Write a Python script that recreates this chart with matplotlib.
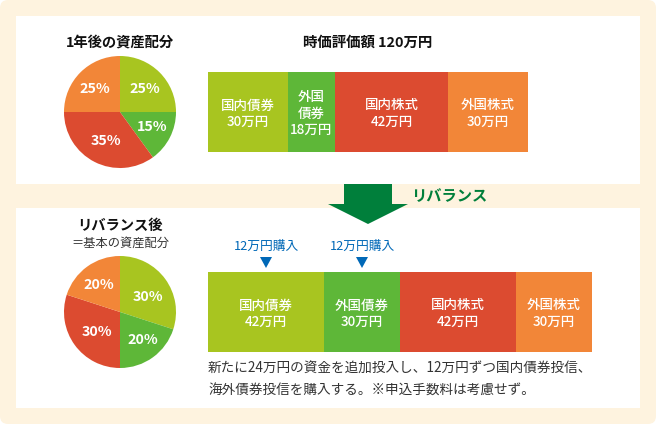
import numpy as np
import matplotlib.pyplot as plt
from matplotlib.patches import FancyBboxPatch, Rectangle, Polygon

plt.rcParams['font.family'] = ['Noto Sans CJK JP', 'DejaVu Sans']

# Colors of the four asset classes
colors = ['#A8C520', '#5EB738', '#DC4B30', '#F28638']

# Allocation shares for the two pies
shares_before = [25, 15, 35, 25]
shares_after = [30, 20, 30, 20]

# Bar segments (pixel width, label)
bar_before = [(80, '国内債券\n30万円'), (47, '外国\n債券\n18万円'), (113, '国内株式\n42万円'), (80, '外国株式\n30万円')]
bar_after = [(116, '国内債券\n42万円'), (76, '外国債券\n30万円'), (116, '国内株式\n42万円'), (76, '外国株式\n30万円')]

# Create the canvas, one unit is one pixel
plt.figure(figsize=(6.56, 4.24), dpi=100)
ax = plt.axes([0, 0, 1, 1])

# Cream background and the two white panels
ax.add_patch(FancyBboxPatch((8, 8), 640, 408, boxstyle='round,pad=8,rounding_size=8', fc='#FEF3DF', ec='none', zorder=0))
ax.add_patch(Rectangle((16, 16), 624, 168, fc='white', ec='none', zorder=1))
ax.add_patch(Rectangle((16, 208), 624, 200, fc='white', ec='none', zorder=1))

# Pie charts, the y axis is flipped so counterclock runs clockwise on screen
plt.pie(shares_before, colors=colors, center=(120, 112), radius=56, startangle=-90, counterclock=True, frame=True)
plt.pie(shares_after, colors=colors, center=(120, 312), radius=56, startangle=-90, counterclock=True, frame=True)

plt.xlim(0, 656)
plt.ylim(424, 0)
plt.axis('off')

# Percent labels on the pies
labels_before = [(145, 89, '25%'), (152, 127, '15%'), (106, 141, '35%'), (95, 89, '25%')]
labels_after = [(148, 297, '30%'), (143, 340, '20%'), (97, 332, '30%'), (99, 285, '20%')]
for x, y, s in labels_before + labels_after:
    plt.text(x, y, s, color='white', fontsize=10.3, fontweight='bold', ha='center', va='center', zorder=5)

# Stacked bars
for segments, top in [(bar_before, 72), (bar_after, 272)]:
    left = 208
    for (width, label), color in zip(segments, colors):
        plt.bar(left, 80, width=width, bottom=top, align='edge', color=color, zorder=3)
        plt.text(left + width / 2, top + 41.5, label, color='white', fontsize=9.7, fontweight='medium',
                 ha='center', va='center', linespacing=1.2, zorder=5)
        left += width

# Titles
plt.text(120, 42.5, '1年後の資産配分', fontsize=10.3, fontweight='bold', ha='center', va='center', color='#111111', zorder=5)
plt.text(368, 42.5, '時価評価額 120万円', fontsize=10.4, fontweight='bold', ha='center', va='center', color='#111111', zorder=5)
plt.text(120, 226, 'リバランス後', fontsize=10.3, fontweight='bold', ha='center', va='center', color='#111111', zorder=5)
plt.text(120, 243, '＝基本の資産配分', fontsize=8.8, ha='center', va='center', color='#333333', zorder=5)

# Big green arrow and its label
ax.add_patch(Polygon([(344, 184), (392, 184), (392, 204), (408, 204), (368, 224), (328, 204), (344, 204)],
                     fc='#007F3B', ec='none', zorder=4))
plt.text(449, 196, 'リバランス', fontsize=11, fontweight='bold', ha='center', va='center', color='#007F3B', zorder=5)

# Purchase notes with blue markers
for x in [266, 362]:
    plt.text(x, 246, '12万円購入', fontsize=9.2, ha='center', va='center', color='#0068B7', zorder=5)
    ax.add_patch(Polygon([(x - 6, 257), (x + 6, 257), (x, 268)], fc='#0068B7', ec='none', zorder=5))

# Caption under the bar
plt.text(208, 369, '新たに24万円の資金を追加投入し、12万円ずつ国内債券投信、', fontsize=9.8, ha='left', va='center', color='#333333', zorder=5)
plt.text(208, 391, '海外債券投信を購入する。※申込手数料は考慮せず。', fontsize=9.8, ha='left', va='center', color='#333333', zorder=5)

plt.savefig('out.png', dpi=100)
